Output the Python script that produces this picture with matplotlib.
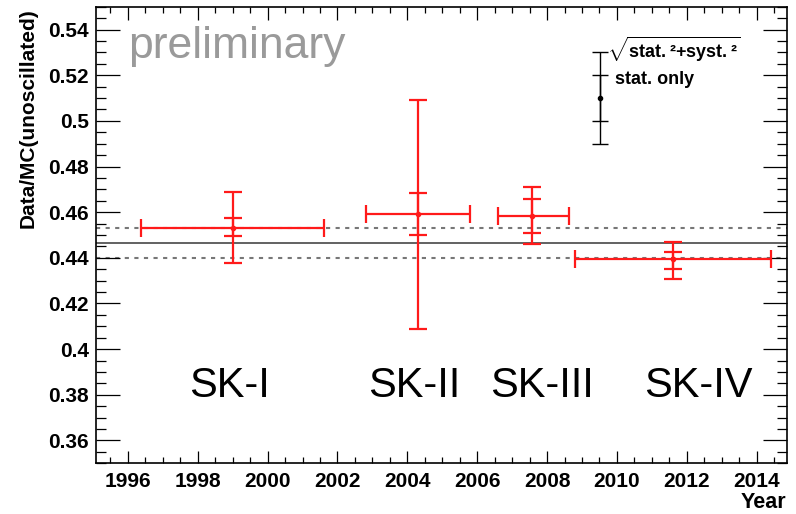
import matplotlib

matplotlib.use("Agg")
import matplotlib.pyplot as plt
from matplotlib.ticker import FuncFormatter, MultipleLocator

# run periods (years) and Data/MC ratio per SK phase
phases = ["SK-I", "SK-II", "SK-III", "SK-IV"]
year_lo = [1996.39, 2002.81, 2006.61, 2008.81]
year_hi = [2001.62, 2005.80, 2008.62, 2014.40]
year_mid = [1999.01, 2004.32, 2007.58, 2011.61]
ratio = [0.4532, 0.4592, 0.4585, 0.4395]
stat_lo = [0.4497, 0.4500, 0.4510, 0.4350]
stat_hi = [0.4573, 0.4683, 0.4658, 0.4424]
tot_lo = [0.4379, 0.4087, 0.4461, 0.4307]
tot_hi = [0.4690, 0.5093, 0.4709, 0.4471]

# combined fit and its band
combined = 0.4465
band = [0.4399, 0.4531]

# label positions
label_x = [1998.9, 2004.2, 2007.86, 2012.33]
label_y = 0.3837

# legend marker
leg_x, leg_y, leg_stat, leg_tot = 2009.52, 0.51, 0.01, 0.02

RED = "#ff1a1a"
plt.rcParams["font.family"] = ["Liberation Sans", "DejaVu Sans"]
plt.rcParams["mathtext.fontset"] = "custom"
plt.rcParams["mathtext.rm"] = "Liberation Sans"
plt.rcParams["mathtext.bf"] = "Liberation Sans:bold"

fig = plt.figure(figsize=(7.96, 5.14), dpi=100)
ax = fig.add_axes([95.7 / 796, 1 - 463.3 / 514, (786.7 - 95.7) / 796, (463.3 - 6.7) / 514])

ax.axhline(combined, color="#555555", lw=1.3, zorder=1)
for b in band:
    ax.axhline(b, color="#777777", lw=1.5, ls=(0, (2, 2.6)), zorder=1)

xerr = [[m - l for m, l in zip(year_mid, year_lo)], [h - m for m, h in zip(year_mid, year_hi)]]
yerr_tot = [[r - l for r, l in zip(ratio, tot_lo)], [h - r for r, h in zip(ratio, tot_hi)]]
yerr_stat = [[r - l for r, l in zip(ratio, stat_lo)], [h - r for r, h in zip(ratio, stat_hi)]]

ax.errorbar(year_mid, ratio, xerr=xerr, yerr=yerr_tot, fmt="o", ms=3, color=RED,
            ecolor=RED, elinewidth=1.6, capsize=6.5, capthick=1.6, zorder=3)
ax.errorbar(year_mid, ratio, yerr=yerr_stat, fmt="none", ecolor=RED,
            elinewidth=1.6, capsize=6.5, capthick=1.6, zorder=3)

# legend drawn by hand like the ROOT original
ax.errorbar([leg_x], [leg_y], yerr=leg_tot, fmt="o", ms=3, color="black",
            elinewidth=1.0, capsize=6, capthick=1.0, zorder=3)
ax.errorbar([leg_x], [leg_y], yerr=leg_stat, fmt="none", ecolor="black",
            elinewidth=1.0, capsize=6, capthick=1.0, zorder=3)
ax.text(2009.72, 0.5312, r"$\sqrt{\mathbf{stat.²{+}syst.²}}$",
        fontsize=13, ha="left", va="center")
ax.text(2009.95, 0.5183, "stat. only", fontsize=13, fontweight="bold", ha="left", va="center")

for name, x in zip(phases, label_x):
    ax.text(x, label_y, name, fontsize=30, ha="center", va="center", color="black")

ax.text(1996.0, 0.5325, "preliminary", fontsize=32, color="#9a9a9a", ha="left", va="center")

ax.set_xlim(1995.08, 2014.86)
ax.set_ylim(0.35, 0.55)
ax.xaxis.set_major_locator(MultipleLocator(2))
ax.xaxis.set_minor_locator(MultipleLocator(0.5))
ax.yaxis.set_major_locator(MultipleLocator(0.02))
ax.yaxis.set_minor_locator(MultipleLocator(0.005))
ax.yaxis.set_major_formatter(FuncFormatter(lambda v, p: f"{round(v, 3):g}"))
ax.xaxis.set_major_formatter(FuncFormatter(lambda v, p: f"{int(round(v))}"))

ax.tick_params(axis="both", which="both", direction="in", top=True, right=True, width=0.9)
ax.tick_params(axis="y", which="major", length=17, labelsize=15, pad=5)
ax.tick_params(axis="y", which="minor", length=7.5)
ax.tick_params(axis="x", which="major", length=9, labelsize=15, pad=6)
ax.tick_params(axis="x", which="minor", length=4.5)
for lab in ax.get_xticklabels() + ax.get_yticklabels():
    lab.set_fontweight("bold")
for s in ax.spines.values():
    s.set_linewidth(1.2)

fig.text(28 / 796, 1 - 8 / 514, "Data/MC(unoscillated)", rotation=90, fontsize=15,
         fontweight="bold", ha="center", va="top")
fig.text(786 / 796, 1 - 502 / 514, "Year", fontsize=15.5, fontweight="bold", ha="right",
         va="center")

fig.savefig("out.png", dpi=100)
